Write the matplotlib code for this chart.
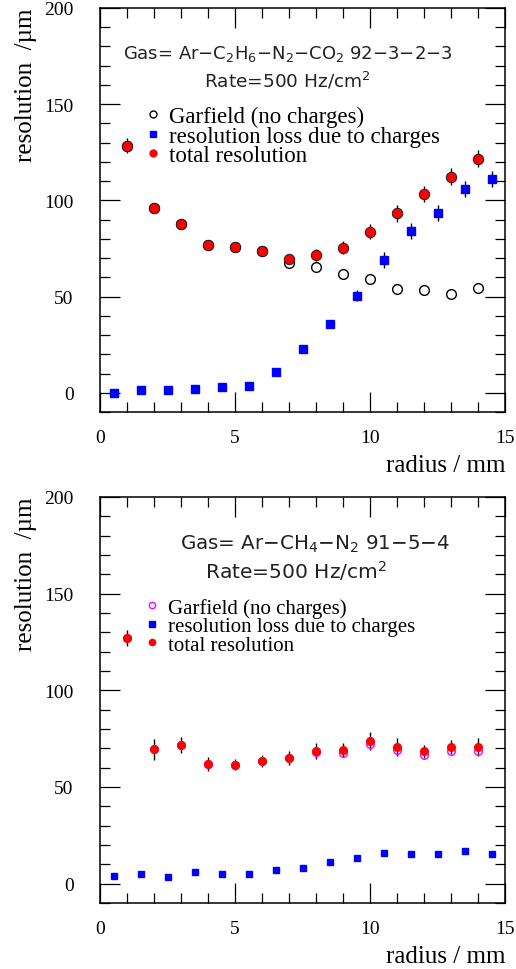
import matplotlib
matplotlib.use('Agg')
import matplotlib.pyplot as plt
from matplotlib.lines import Line2D
from matplotlib.ticker import MultipleLocator

# ---- data ----
radius_full = [1, 2, 3, 4, 5, 6, 7, 8, 9, 10, 11, 12, 13, 14]
radius_half = [0.5, 1.5, 2.5, 3.5, 4.5, 5.5, 6.5, 7.5, 8.5, 9.5, 10.5, 11.5, 12.5, 13.5, 14.5]

# upper panel: Ar-C2H6-N2-CO2
top_garfield = [128.5, 96.0, 87.8, 77.0, 75.8, 73.8, 67.2, 65.3, 61.8, 58.9, 53.9, 53.2, 51.4, 54.5]
top_loss = [0.0, 1.2, 1.2, 2.1, 3.0, 3.5, 10.7, 22.9, 35.8, 50.5, 69.1, 84.0, 93.5, 106.0, 111.2]
top_loss_err = [1, 1, 1, 1, 1, 1, 1.5, 1.5, 2, 3, 4, 4, 4, 4, 4]
top_total = [128.5, 96.0, 87.8, 77.0, 75.8, 73.8, 69.5, 71.7, 75.5, 83.8, 93.3, 103.4, 112.3, 121.6]
top_total_err = [4, 2, 2, 2, 2, 2, 2.5, 3, 3.5, 4, 4.3, 4.3, 4.5, 4.5]

# lower panel: Ar-CH4-N2
bot_garfield = [127.1, 69.4, 71.8, 61.8, 61.6, 63.5, 65.1, 68.0, 67.7, 72.0, 68.9, 66.5, 68.7, 68.7]
bot_loss = [3.8, 4.8, 3.3, 5.8, 5.2, 5.2, 7.1, 8.3, 11.2, 13.2, 15.8, 15.1, 15.4, 17.0, 15.2]
bot_total = [127.1, 69.4, 71.8, 61.8, 61.6, 63.5, 65.1, 68.6, 69.1, 73.6, 70.6, 68.4, 70.8, 70.8]
bot_total_err = [4.2, 5.5, 4.2, 3.5, 3.0, 3.0, 3.7, 4.0, 3.8, 4.6, 4.7, 3.5, 3.6, 4.6]

legend_labels = ['Garfield (no charges)', 'resolution loss due to charges', 'total resolution']
top_gas = r'Gas= Ar$-$C$_2$H$_6$$-$N$_2$$-$CO$_2$ 92$-$3$-$2$-$3'
bot_gas = r'Gas= Ar$-$CH$_4$$-$N$_2$ 91$-$5$-$4'
rate_text = r'Rate=500 Hz/cm$^2$'

serif = 'Liberation Serif'
sans = ['DejaVu Sans']
plt.rcParams['font.family'] = serif
plt.rcParams['mathtext.fontset'] = 'dejavusans'
plt.rcParams['mathtext.default'] = 'regular'

fig = plt.figure(figsize=(5.16, 9.70), dpi=100)
ax1 = fig.add_axes([100 / 516, 1 - 413 / 970, 405 / 516, 404 / 970])
ax2 = fig.add_axes([100 / 516, 1 - 904 / 970, 405 / 516, 406 / 970])


def style_axes(ax):
    ax.set_xlim(0, 15)
    ax.set_ylim(-10, 200)
    ax.xaxis.set_major_locator(MultipleLocator(5))
    ax.xaxis.set_minor_locator(MultipleLocator(1))
    ax.yaxis.set_major_locator(MultipleLocator(50))
    ax.yaxis.set_minor_locator(MultipleLocator(10))
    ax.tick_params(which='both', direction='in', top=True, right=True, width=0.9)
    ax.tick_params(which='major', length=14.5, labelsize=14)
    ax.tick_params(which='minor', length=7.5)
    ax.tick_params(axis='x', which='major', pad=12)
    ax.tick_params(axis='y', which='major', pad=19)
    for s in ax.spines.values():
        s.set_linewidth(1.1)
    ax.set_xlabel('radius / mm', fontsize=18, loc='right')
    ax.set_ylabel('resolution  /µm', fontsize=18, loc='top')
    ax.xaxis.set_label_coords(1.0, -0.103)
    ax.yaxis.set_label_coords(-0.155, 1.0)


# ---- upper panel ----
ax = ax1
style_axes(ax)
ax.errorbar(radius_half, top_loss, yerr=top_loss_err, fmt='none', ecolor='black', elinewidth=1, zorder=1)
ax.errorbar(radius_full, top_total, yerr=top_total_err, fmt='none', ecolor='black', elinewidth=1, zorder=1)
ax.plot(radius_full, top_garfield, 'o', ms=7, mfc='none', mec='black', mew=1.0, zorder=2)
ax.plot(radius_half, top_loss, 's', ms=6, color='#0000ff', mec='#0000ff', zorder=3)
ax.plot(radius_full, top_total, 'o', ms=7.5, mfc='#ff0000', mec='#202020', mew=0.7, zorder=4)

ax.text(0.464, 0.888, top_gas, transform=ax.transAxes,
        family=sans, fontsize=13, ha='center', va='center', color='#222222')
ax.text(0.462, 0.822, rate_text, transform=ax.transAxes,
        family=sans, fontsize=13.3, ha='center', va='center', color='#222222')

handles = [Line2D([], [], ls='none', marker='o', ms=5, mfc='none', mec='black', mew=1.0),
           Line2D([], [], ls='none', marker='s', ms=4.5, color='#0000ff'),
           Line2D([], [], ls='none', marker='o', ms=5, color='#ff0000')]
ax.legend(handles, legend_labels, loc='upper left', bbox_to_anchor=(0.113, 0.757),
          frameon=False, fontsize=16.5, handlelength=0.6, handletextpad=0.4,
          labelspacing=-0.08, borderpad=0, borderaxespad=0)

# ---- lower panel ----
ax = ax2
style_axes(ax)
ax.errorbar(radius_full, bot_total, yerr=bot_total_err, fmt='none', ecolor='black', elinewidth=1, zorder=1)
ax.plot(radius_full, bot_garfield, 'o', ms=5.5, mfc='none', mec='#ff00ff', mew=1.0, zorder=2)
ax.plot(radius_half, bot_loss, 's', ms=4.5, color='#0000ff', zorder=3)
ax.plot(radius_full, bot_total, 'o', ms=5.5, color='#ff0000', zorder=4)

ax.text(0.531, 0.887, bot_gas, transform=ax.transAxes,
        family=sans, fontsize=14.3, ha='center', va='center', color='#222222')
ax.text(0.484, 0.82, rate_text, transform=ax.transAxes,
        family=sans, fontsize=14.6, ha='center', va='center', color='#222222')

handles = [Line2D([], [], ls='none', marker='o', ms=4.5, mfc='none', mec='#ff00ff', mew=1.0),
           Line2D([], [], ls='none', marker='s', ms=4, color='#0000ff'),
           Line2D([], [], ls='none', marker='o', ms=4.5, color='#ff0000')]
ax.legend(handles, legend_labels, loc='upper left', bbox_to_anchor=(0.113, 0.752),
          frameon=False, fontsize=15, handlelength=0.6, handletextpad=0.45,
          labelspacing=-0.05, borderpad=0, borderaxespad=0)

fig.savefig('out.png', dpi=100)
